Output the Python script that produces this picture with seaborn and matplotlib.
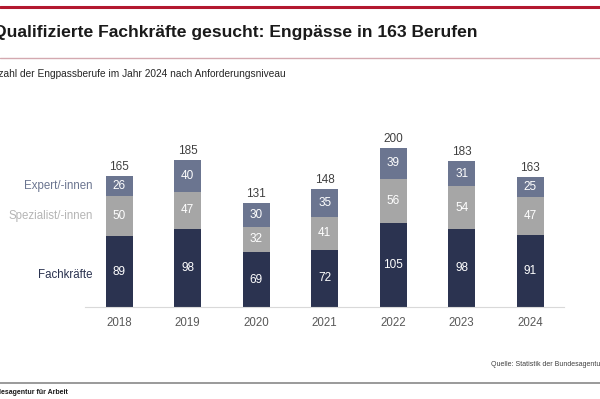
import matplotlib
matplotlib.use("Agg")
import matplotlib.pyplot as plt
import seaborn as sns
import pandas as pd
from matplotlib.lines import Line2D

years = ["2018", "2019", "2020", "2021", "2022", "2023", "2024"]
fachkraefte = [89, 98, 69, 72, 105, 98, 91]
spezialisten = [50, 47, 32, 41, 56, 54, 47]
experten = [26, 40, 30, 35, 39, 31, 25]
totals = [165, 185, 131, 148, 200, 183, 163]
series_names = ["Expert/-innen", "Spezialist/-innen", "Fachkräfte"]

c_dark = "#2b3350"
c_grey = "#a6a6a6"
c_slate = "#6b7590"

sns.set_theme(style="white")
plt.rcParams["font.family"] = ["Liberation Sans", "DejaVu Sans"]

df = pd.DataFrame({
    "Jahr": years,
    "Fach": fachkraefte,
    "Spez": spezialisten,
    "Exp": experten,
})
df["cum_fs"] = df["Fach"] + df["Spez"]
df["cum_all"] = df["cum_fs"] + df["Exp"]

fig = plt.figure(figsize=(6, 3.99), dpi=100)
ax = fig.add_axes([0.1417, 0.2306, 0.799, 0.4386])

bw = 0.394
sns.barplot(data=df, x="Jahr", y="cum_all", color=c_slate, width=bw, ax=ax,
            saturation=1, linewidth=0)
sns.barplot(data=df, x="Jahr", y="cum_fs", color=c_grey, width=bw, ax=ax,
            saturation=1, linewidth=0)
sns.barplot(data=df, x="Jahr", y="Fach", color=c_dark, width=bw, ax=ax,
            saturation=1, linewidth=0)

ax.set_xlim(-0.5, 6.5)
ax.set_ylim(0, 220)
ax.set_xlabel("")
ax.set_ylabel("")
ax.set_yticks([])
for s in ["top", "right", "left"]:
    ax.spines[s].set_visible(False)
ax.spines["bottom"].set_color("#d9d9d9")
ax.spines["bottom"].set_linewidth(0.8)
ax.tick_params(axis="x", length=0, pad=7, labelsize=8.3, labelcolor="#595959")

for i in range(len(years)):
    f, s, e, t = fachkraefte[i], spezialisten[i], experten[i], totals[i]
    ax.text(i, f / 2, str(f), ha="center", va="center", color="white", fontsize=8.5)
    ax.text(i, f + s / 2, str(s), ha="center", va="center", color="white", fontsize=8.5)
    ax.text(i, f + s + e / 2, str(e), ha="center", va="center", color="white", fontsize=8.5)
    ax.text(i, f + s + e + 4, str(t), ha="center", va="bottom", color="#404040", fontsize=8.5)

# series labels at left of first bar
ax.text(-0.39, fachkraefte[0] + spezialisten[0] + experten[0] / 2, series_names[0],
        ha="right", va="center", color=c_slate, fontsize=8.3)
ax.text(-0.39, fachkraefte[0] + spezialisten[0] / 2, series_names[1],
        ha="right", va="center", color="#b5b5b5", fontsize=8.3)
ax.text(-0.39, fachkraefte[0] * 0.45, series_names[2],
        ha="right", va="center", color=c_dark, fontsize=8.3)

# decorations
fig.add_artist(Line2D([0, 1], [1 - 6.5 / 399] * 2, color="#b3182f", lw=2.2,
                      transform=fig.transFigure))
fig.add_artist(Line2D([0, 1], [1 - 58 / 399] * 2, color="#d4a9b0", lw=1.0,
                      transform=fig.transFigure))
fig.add_artist(Line2D([0, 1], [1 - 382.5 / 399] * 2, color="#9a9a9a", lw=1.4,
                      transform=fig.transFigure))

fig.text(-0.012, 1 - 32 / 399, "Qualifizierte Fachkräfte gesucht: Engpässe in 163 Berufen",
         ha="left", va="center", fontsize=12.6, fontweight="bold", color="#1a1a1a")
fig.text(-0.024, 1 - 74 / 399, "Anzahl der Engpassberufe im Jahr 2024 nach Anforderungsniveau",
         ha="left", va="center", fontsize=7.3, color="#262626")
fig.text(491 / 600, 1 - 365 / 399, "Quelle: Statistik der Bundesagentur für Arbeit",
         ha="left", va="center", fontsize=5.0, color="#404040")
fig.text(-0.028, 1 - 392 / 399, "Bundesagentur für Arbeit",
         ha="left", va="center", fontsize=5.0, fontweight="bold", color="#1a1a1a")

fig.savefig("out.png", dpi=100)
